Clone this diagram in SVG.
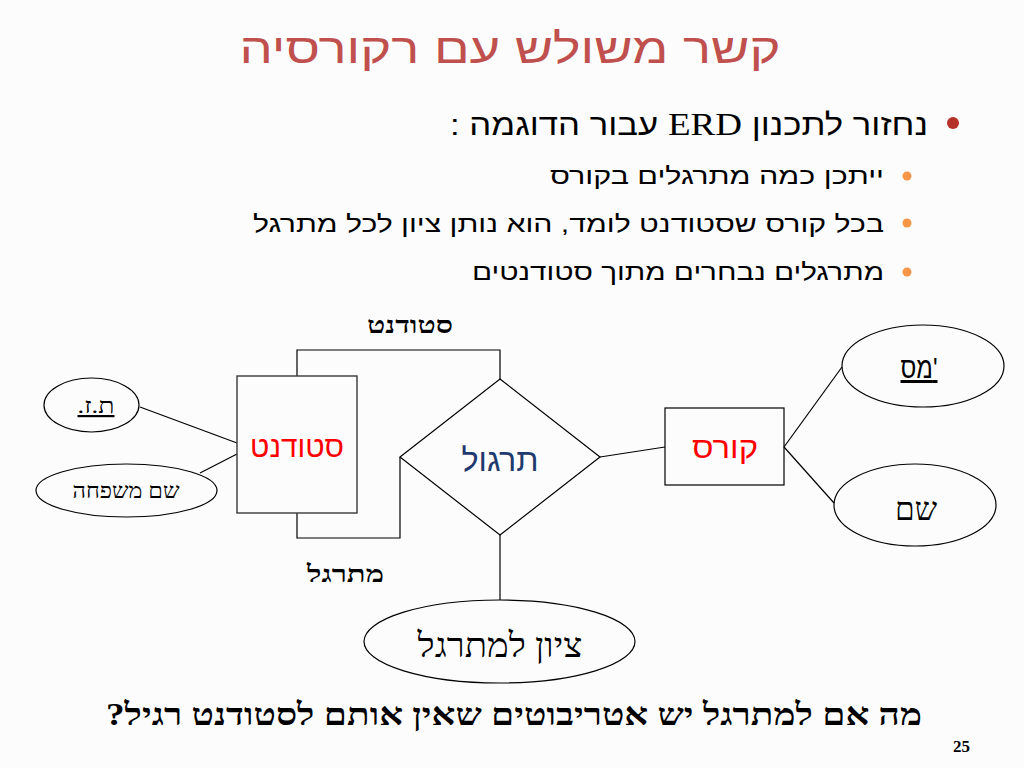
<svg xmlns="http://www.w3.org/2000/svg" width="1024" height="768" viewBox="0 0 1024 768">
<style>
.sans{font-family:"Liberation Sans","DejaVu Sans",sans-serif}
.serif{font-family:"Liberation Serif","DejaVu Serif",serif}
.rtl{direction:rtl;unicode-bidi:embed}
.shape{fill:none;stroke:#000;stroke-width:1.2}
.box{fill:none;stroke:#3a3a3a;stroke-width:1.4}
.conn{fill:none;stroke:#000;stroke-width:1.2}
</style>
<rect width="1024" height="768" fill="#fcfcfc"/>
<g id="title">
<text class="sans rtl" x="510" y="63" font-size="42" fill="#C0504D" text-anchor="middle" textLength="541" lengthAdjust="spacingAndGlyphs">קשר משולש עם רקורסיה</text>
</g>
<g id="bullets">
<circle cx="953" cy="123" r="6" fill="#B5322A"/>
<text class="sans rtl" x="689" y="135" font-size="30" fill="#000" text-anchor="middle" textLength="478" lengthAdjust="spacingAndGlyphs">נחזור לתכנון <tspan class="serif" font-size="32">ERD</tspan> עבור הדוגמה :</text>
<circle cx="907" cy="176" r="4.5" fill="#F79646"/>
<text class="sans rtl" x="717" y="184" font-size="24" fill="#000" text-anchor="middle" textLength="334" lengthAdjust="spacingAndGlyphs">ייתכן כמה מתרגלים בקורס</text>
<circle cx="907" cy="223" r="4.5" fill="#F79646"/>
<text class="sans rtl" x="568.5" y="232" font-size="24" fill="#000" text-anchor="middle" textLength="631" lengthAdjust="spacingAndGlyphs">בכל קורס שסטודנט לומד, הוא נותן ציון לכל מתרגל</text>
<circle cx="907" cy="272" r="4.5" fill="#F79646"/>
<text class="sans rtl" x="678" y="280" font-size="24" fill="#000" text-anchor="middle" textLength="412" lengthAdjust="spacingAndGlyphs">מתרגלים נבחרים מתוך סטודנטים</text>
</g>
<g id="connectors">
<path class="conn" d="M140,407 L237,443"/>
<path class="conn" d="M200,473 L237,454"/>
<path class="conn" d="M297,376 V350 H500 V379"/>
<path class="conn" d="M297,513 V538 H400 V457"/>
<path class="conn" d="M600,457 L665,447"/>
<path class="conn" d="M784,447 L842,367"/>
<path class="conn" d="M784,447 L834,503"/>
<path class="conn" d="M500,535 V600"/>
</g>
<g id="role-labels">
<text class="serif rtl" x="410" y="333" font-size="24" font-weight="bold" text-anchor="middle" textLength="86" lengthAdjust="spacingAndGlyphs">סטודנט</text>
<text class="serif rtl" x="345.5" y="582" font-size="24" font-weight="bold" text-anchor="middle" textLength="77" lengthAdjust="spacingAndGlyphs">מתרגל</text>
</g>
<g id="node-student">
<rect class="box" x="237" y="376" width="120" height="137"/>
<text class="sans rtl" x="297" y="457" font-size="30" fill="#FF0000" text-anchor="middle" textLength="94" lengthAdjust="spacingAndGlyphs">סטודנט</text>
</g>
<g id="node-tz">
<ellipse class="shape" cx="91.5" cy="405" rx="47.5" ry="27"/>
<text class="serif rtl" x="96" y="413" font-size="22" text-anchor="middle" text-decoration="underline" textLength="37" lengthAdjust="spacingAndGlyphs">ת.ז.</text>
</g>
<g id="node-lastname">
<ellipse class="shape" cx="126.5" cy="490.5" rx="90.5" ry="26.5"/>
<text class="serif rtl" x="126" y="498" font-size="22" text-anchor="middle" textLength="107" lengthAdjust="spacingAndGlyphs">שם משפחה</text>
</g>
<g id="node-exercise">
<polygon class="shape" points="500,379 600,457 500,535 400,457"/>
<text class="sans rtl" x="500" y="471" font-size="32" fill="#1F3A6E" text-anchor="middle" textLength="77" lengthAdjust="spacingAndGlyphs">תרגול</text>
</g>
<g id="node-course">
<rect class="shape" x="665" y="408" width="119" height="77"/>
<text class="sans rtl" x="725" y="458" font-size="30" fill="#FF0000" text-anchor="middle" textLength="66" lengthAdjust="spacingAndGlyphs">קורס</text>
</g>
<g id="node-course-no">
<ellipse class="shape" cx="923" cy="366" rx="81" ry="41"/>
<text class="sans" x="919" y="378" font-size="30" text-anchor="middle" text-decoration="underline" style="direction:ltr" textLength="37" lengthAdjust="spacingAndGlyphs">מס'</text>
</g>
<g id="node-course-name">
<ellipse class="shape" cx="915" cy="505" rx="81" ry="41"/>
<text class="serif rtl" x="916" y="520" font-size="32" text-anchor="middle" textLength="42" lengthAdjust="spacingAndGlyphs">שם</text>
</g>
<g id="node-grade">
<ellipse class="shape" cx="499.5" cy="641.5" rx="135.5" ry="41.5"/>
<text class="serif rtl" x="500" y="657" font-size="34" text-anchor="middle" textLength="165" lengthAdjust="spacingAndGlyphs">ציון למתרגל</text>
</g>
<g id="footer">
<text class="serif rtl" x="514" y="725" font-size="31" font-weight="bold" text-anchor="middle" textLength="816" lengthAdjust="spacingAndGlyphs">מה אם למתרגל יש אטריבוטים שאין אותם לסטודנט רגיל?</text>
<text class="serif" x="961.5" y="752" font-size="17" font-weight="bold" text-anchor="middle">25</text>
</g>
</svg>
